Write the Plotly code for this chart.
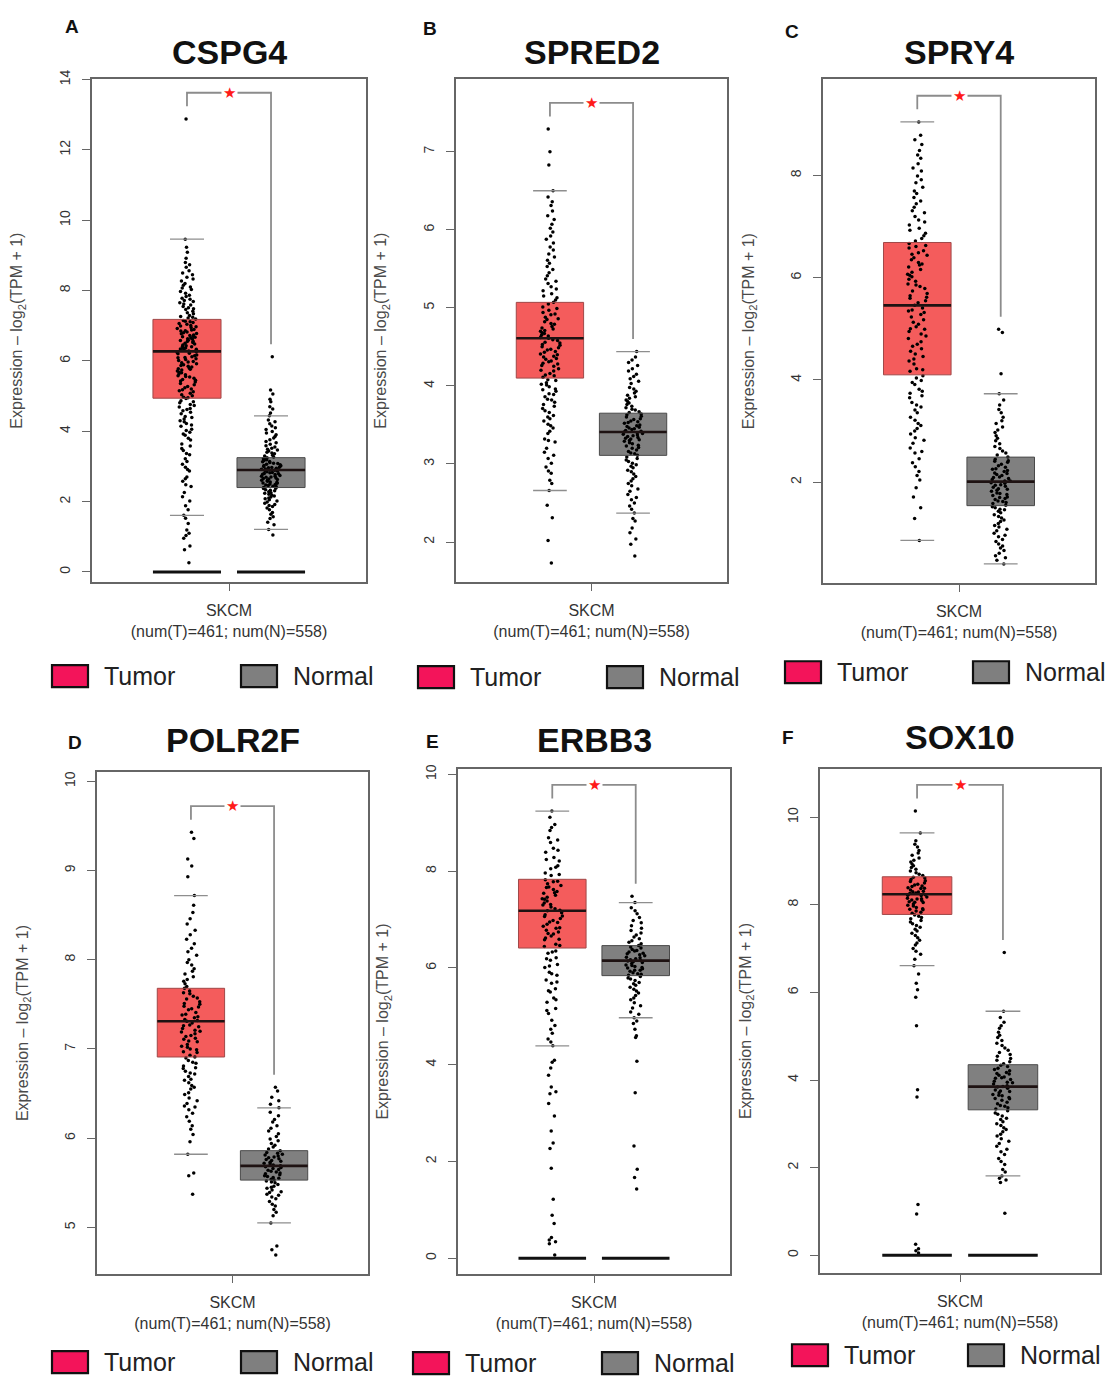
import plotly.graph_objects as go

W, H = 1115, 1378

genes = ["CSPG4", "SPRED2", "SPRY4", "POLR2F", "ERBB3", "SOX10"]
panel_letters = ["A", "B", "C", "D", "E", "F"]
group_names = ["Tumor", "Normal"]
x_tick_label = "SKCM<br>(num(T)=461; num(N)=558)"
y_title = "Expression \u2013 log<sub>2</sub>(TPM + 1)"

# ---- box statistics ----
tumor_lowerfence = [1.61, 2.66, 0.86, 5.82, 4.39, 6.61]
tumor_q1 = [4.94, 4.10, 4.10, 6.91, 6.41, 7.78]
tumor_median = [6.27, 4.61, 5.46, 7.31, 7.18, 8.24]
tumor_q3 = [7.18, 5.07, 6.69, 7.68, 7.83, 8.64]
tumor_upperfence = [9.46, 6.50, 9.05, 8.72, 9.24, 9.64]

normal_lowerfence = [1.21, 2.37, 0.40, 5.05, 4.97, 1.81]
normal_q1 = [2.40, 3.11, 1.54, 5.53, 5.84, 3.32]
normal_median = [2.90, 3.41, 2.01, 5.69, 6.15, 3.85]
normal_q3 = [3.25, 3.65, 2.49, 5.86, 6.46, 4.35]
normal_upperfence = [4.44, 4.44, 3.73, 6.34, 7.35, 5.57]

# panels that show the bar of zero values
zero_baseline = [True, False, False, False, True, True]

# ---- individual samples (estimated from the dot clouds) ----
cspg4_tumor = [0.26, 0.63, 0.74, 0.96, 1.04, 1.1, 1.19, 1.38, 1.53, 1.61, 1.77, 1.88, 2.02, 2.14, 2.26, 2.43,
               2.48, 2.65, 2.7, 2.87, 2.91, 3.06, 3.14, 3.22, 3.33, 3.37, 3.51, 3.58, 3.64, 3.75, 3.8, 3.89,
               3.92, 4.02, 4.06, 4.14, 4.18, 4.27, 4.3, 4.39, 4.42, 4.5, 4.54, 4.62, 4.65, 4.73, 4.76, 4.84,
               4.87, 4.93, 4.97, 5.04, 5.08, 5.15, 5.2, 5.27, 5.32, 5.4, 5.43, 5.47, 5.54, 5.58, 5.63, 5.68,
               5.71, 5.78, 5.8, 5.87, 5.89, 5.95, 5.98, 6.04, 6.06, 6.12, 6.15, 6.2, 6.22, 6.28, 6.3, 6.36,
               6.37, 6.43, 6.45, 6.5, 6.52, 6.58, 6.59, 6.65, 6.67, 6.72, 6.74, 6.8, 6.82, 6.88, 6.89, 6.95,
               6.97, 7.04, 7.06, 7.13, 7.15, 7.22, 7.26, 7.34, 7.37, 7.46, 7.51, 7.59, 7.65, 7.72, 7.78, 7.87,
               7.92, 8.03, 8.1, 8.2, 8.27, 8.38, 8.45, 8.56, 8.66, 8.8, 8.92, 9.09, 9.23, 9.46, 12.88,
               4.58, 4.69, 4.81, 4.95, 5.01, 5.12, 5.18, 5.24, 5.36, 5.45, 5.51, 5.56, 5.61, 5.66, 5.74, 5.76,
               5.83, 5.85, 5.92, 5.97, 6.01, 6.09, 6.1, 6.17, 6.24, 6.26, 6.33, 6.34, 6.4, 6.41, 6.48, 6.55,
               6.56, 6.62, 6.63, 6.69, 6.7, 6.77, 6.78, 6.85, 6.86, 6.92, 6.99, 7.01, 7.09, 7.11, 7.19, 7.24,
               7.29, 7.41, 7.48, 7.55, 7.62, 7.69, 7.75, 7.83, 7.97, 8.07, 8.15, 8.33, 8.5, 8.73, 3.45, 3.97,
               4.22, 4.35, 2.58, 2.98]
cspg4_normal = [1.05, 1.21, 1.34, 1.41, 1.52, 1.57, 1.64, 1.69, 1.77, 1.82, 1.89, 1.92, 1.99, 2.02, 2.08, 2.1,
                2.16, 2.18, 2.24, 2.25, 2.31, 2.32, 2.37, 2.38, 2.43, 2.44, 2.49, 2.5, 2.55, 2.56, 2.61, 2.61,
                2.66, 2.67, 2.72, 2.72, 2.77, 2.78, 2.82, 2.83, 2.87, 2.88, 2.92, 2.93, 2.97, 2.98, 3.02, 3.03,
                3.08, 3.09, 3.13, 3.14, 3.19, 3.2, 3.25, 3.27, 3.32, 3.36, 3.4, 3.44, 3.49, 3.52, 3.59, 3.63,
                3.71, 3.76, 3.85, 3.9, 3.99, 4.05, 4.15, 4.21, 4.32, 4.44, 4.52, 4.63, 4.7, 4.84, 4.91, 5.06,
                5.17, 6.12,
                2.05, 2.13, 2.21, 2.28, 2.34, 2.4, 2.46, 2.52, 2.58, 2.63, 2.69, 2.74, 2.79, 2.85, 2.9, 2.95,
                3.0, 3.06, 3.11, 3.17, 3.22, 3.3, 3.38, 3.47, 3.55, 3.67, 3.81, 3.95, 4.1, 4.27, 2.64, 2.7,
                2.8, 2.89, 2.96, 3.05, 1.86, 1.95, 2.47, 2.53]

spred2_tumor = [1.73, 2.02, 2.31, 2.47, 2.66, 2.75, 2.79, 2.88, 2.91, 3.01, 3.07, 3.15, 3.2, 3.28, 3.32, 3.39,
                3.42, 3.49, 3.51, 3.58, 3.6, 3.66, 3.68, 3.74, 3.76, 3.82, 3.83, 3.89, 3.9, 3.95, 3.96, 4.01,
                4.02, 4.07, 4.08, 4.13, 4.14, 4.19, 4.2, 4.25, 4.26, 4.31, 4.32, 4.37, 4.38, 4.43, 4.44, 4.49,
                4.5, 4.55, 4.56, 4.61, 4.62, 4.67, 4.68, 4.73, 4.74, 4.79, 4.8, 4.85, 4.86, 4.91, 4.92, 4.97,
                4.99, 5.05, 5.07, 5.13, 5.15, 5.22, 5.24, 5.31, 5.34, 5.41, 5.45, 5.53, 5.57, 5.65, 5.69, 5.78,
                5.83, 5.92, 5.97, 6.07, 6.13, 6.24, 6.31, 6.42, 6.5, 6.83, 7.0, 7.29,
                3.62, 3.71, 3.79, 3.86, 3.93, 3.99, 4.04, 4.11, 4.16, 4.22, 4.28, 4.34, 4.4, 4.46, 4.52, 4.58,
                4.64, 4.7, 4.76, 4.82, 4.88, 4.94, 5.01, 5.1, 5.18, 5.27, 5.37, 5.49, 5.61, 5.74, 5.88, 6.02,
                6.18, 6.36, 4.47, 4.53, 4.59, 4.65, 4.71, 4.41, 4.35, 4.29, 3.55, 3.46, 3.3, 3.11, 2.96]
spred2_normal = [1.82, 1.97, 2.04, 2.12, 2.18, 2.27, 2.3, 2.37, 2.42, 2.5, 2.54, 2.61, 2.65, 2.72, 2.75, 2.81,
                 2.84, 2.9, 2.92, 2.97, 2.99, 3.03, 3.05, 3.09, 3.11, 3.14, 3.16, 3.2, 3.21, 3.24, 3.26, 3.29,
                 3.31, 3.34, 3.35, 3.38, 3.4, 3.42, 3.44, 3.47, 3.49, 3.52, 3.54, 3.57, 3.6, 3.63, 3.66, 3.69,
                 3.72, 3.76, 3.8, 3.84, 3.88, 3.93, 3.98, 4.03, 4.09, 4.15, 4.22, 4.3, 4.37, 4.44,
                 2.68, 2.78, 2.87, 2.95, 3.01, 3.07, 3.13, 3.18, 3.23, 3.27, 3.3, 3.33, 3.37, 3.39, 3.41, 3.43,
                 3.45, 3.48, 3.5, 3.53, 3.55, 3.58, 3.61, 3.64, 3.67, 3.7, 3.74, 3.78, 3.82, 3.86, 3.91, 3.96,
                 4.06, 4.12, 4.19, 4.26, 4.33, 2.46, 2.57, 3.36, 3.32, 3.46]

spry4_tumor = [0.86, 1.29, 1.5, 1.71, 1.89, 2.04, 2.21, 2.3, 2.46, 2.57, 2.67, 2.76, 2.87, 2.94, 3.05, 3.11,
               3.21, 3.27, 3.36, 3.41, 3.51, 3.56, 3.65, 3.69, 3.78, 3.82, 3.91, 3.95, 4.04, 4.08, 4.17, 4.22,
               4.31, 4.37, 4.46, 4.51, 4.61, 4.66, 4.75, 4.81, 4.9, 4.95, 5.04, 5.09, 5.18, 5.23, 5.32, 5.37,
               5.46, 5.51, 5.6, 5.65, 5.74, 5.79, 5.88, 5.93, 6.02, 6.07, 6.16, 6.21, 6.3, 6.35, 6.44, 6.49,
               6.58, 6.63, 6.72, 6.77, 6.87, 6.93, 7.03, 7.09, 7.2, 7.27, 7.38, 7.45, 7.57, 7.65, 7.77, 7.86,
               7.99, 8.09, 8.23, 8.34, 8.49, 8.61, 8.79, 9.05,
               3.15, 3.47, 3.74, 3.99, 4.2, 4.41, 4.56, 4.7, 4.86, 4.99, 5.13, 5.28, 5.41, 5.55, 5.69, 5.83,
               5.97, 6.11, 6.25, 6.39, 6.53, 6.67, 6.82, 6.97, 7.13, 7.31, 7.5, 7.7, 7.92, 8.15, 8.4, 8.7,
               5.0, 5.35, 5.62, 5.86, 6.05, 6.27, 6.46, 6.61, 2.6, 2.82, 3.0, 2.38, 2.13]
spry4_normal = [0.4, 0.47, 0.56, 0.61, 0.71, 0.75, 0.84, 0.88, 0.96, 1.0, 1.08, 1.12, 1.19, 1.23, 1.3, 1.33,
                1.4, 1.43, 1.5, 1.52, 1.58, 1.6, 1.66, 1.68, 1.74, 1.76, 1.82, 1.84, 1.9, 1.92, 1.98, 1.99,
                2.05, 2.07, 2.13, 2.15, 2.21, 2.23, 2.29, 2.32, 2.39, 2.42, 2.49, 2.53, 2.61, 2.66, 2.75, 2.81,
                2.91, 2.97, 3.08, 3.15, 3.27, 3.36, 3.51, 3.61, 3.73, 4.12, 4.93, 4.99,
                0.52, 0.66, 0.79, 0.93, 1.05, 1.15, 1.26, 1.36, 1.46, 1.55, 1.63, 1.71, 1.79, 1.87, 1.95, 2.02,
                2.1, 2.18, 2.26, 2.35, 2.45, 2.57, 2.7, 2.86, 3.02, 3.2, 3.42, 1.47, 1.62, 1.78, 1.94, 2.09,
                2.25, 2.41, 2.02, 1.86, 1.7, 2.17]

polr2f_tumor = [5.37, 5.58, 5.61, 5.82, 5.96, 6.04, 6.14, 6.19, 6.28, 6.32, 6.39, 6.42, 6.49, 6.51, 6.57, 6.59,
                6.65, 6.66, 6.72, 6.73, 6.78, 6.79, 6.84, 6.85, 6.9, 6.91, 6.96, 6.97, 7.02, 7.03, 7.08, 7.09,
                7.14, 7.15, 7.2, 7.21, 7.26, 7.27, 7.32, 7.33, 7.38, 7.39, 7.44, 7.45, 7.5, 7.51, 7.56, 7.57,
                7.62, 7.63, 7.68, 7.7, 7.76, 7.78, 7.84, 7.87, 7.94, 7.97, 8.05, 8.09, 8.18, 8.23, 8.33, 8.4,
                8.53, 8.61, 8.72, 8.93, 9.05, 9.13, 9.36, 9.43,
                6.45, 6.55, 6.62, 6.69, 6.75, 6.81, 6.87, 6.93, 6.99, 7.05, 7.11, 7.17, 7.23, 7.29, 7.35, 7.41,
                7.47, 7.53, 7.59, 7.65, 7.73, 7.81, 7.9, 8.0, 8.13, 8.28, 8.46, 6.24, 6.35, 7.0, 7.12, 7.25,
                7.36, 7.48, 7.19, 7.31, 6.36, 6.1]
polr2f_normal = [4.69, 4.75, 4.79, 5.05, 5.13, 5.17, 5.24, 5.26, 5.32, 5.34, 5.39, 5.4, 5.45, 5.46, 5.5, 5.51,
                 5.54, 5.55, 5.58, 5.59, 5.62, 5.63, 5.66, 5.67, 5.7, 5.71, 5.74, 5.75, 5.78, 5.79, 5.82, 5.83,
                 5.86, 5.88, 5.92, 5.94, 5.99, 6.02, 6.08, 6.11, 6.18, 6.21, 6.29, 6.34, 6.42, 6.46, 6.53, 6.57,
                 5.2, 5.29, 5.36, 5.42, 5.48, 5.52, 5.56, 5.6, 5.64, 5.68, 5.72, 5.76, 5.8, 5.84, 5.9, 5.97,
                 6.05, 6.14, 6.25, 6.38, 5.57, 5.61, 5.65, 5.69, 5.73, 5.77, 5.53, 5.81, 5.44, 5.37]

erbb3_tumor = [0.07, 0.3, 0.34, 0.38, 0.43, 0.72, 0.89, 1.22, 1.86, 2.27, 2.38, 2.63, 2.94, 3.2, 3.4, 3.44,
               3.54, 3.78, 3.93, 4.05, 4.09, 4.39, 4.53, 4.65, 4.81, 4.92, 5.06, 5.16, 5.29, 5.38, 5.5, 5.57,
               5.68, 5.75, 5.85, 5.91, 6.01, 6.07, 6.16, 6.21, 6.3, 6.35, 6.44, 6.49, 6.58, 6.62, 6.7, 6.74,
               6.82, 6.86, 6.94, 6.98, 7.06, 7.1, 7.18, 7.22, 7.3, 7.34, 7.42, 7.46, 7.54, 7.58, 7.66, 7.7,
               7.78, 7.82, 7.91, 7.96, 8.05, 8.11, 8.21, 8.28, 8.39, 8.47, 8.59, 8.69, 8.84, 8.96, 9.11, 9.24,
               5.12, 5.34, 5.53, 5.71, 5.88, 6.04, 6.19, 6.33, 6.46, 6.59, 6.71, 6.83, 6.95, 7.07, 7.19, 7.31,
               7.43, 7.55, 7.67, 7.79, 7.93, 8.08, 8.24, 8.43, 8.64, 8.9, 6.66, 6.78, 6.9, 7.02, 7.14, 7.26,
               7.38, 7.5, 7.62, 7.74, 4.73, 4.47]
erbb3_normal = [1.43, 1.67, 1.84, 2.32, 3.42, 4.07, 4.56, 4.6, 4.73, 4.85, 4.97, 5.09, 5.17, 5.28, 5.34, 5.43,
                5.48, 5.56, 5.6, 5.67, 5.7, 5.77, 5.79, 5.85, 5.87, 5.93, 5.95, 6.01, 6.03, 6.09, 6.11, 6.17,
                6.19, 6.25, 6.27, 6.33, 6.35, 6.41, 6.43, 6.5, 6.53, 6.6, 6.64, 6.72, 6.77, 6.87, 6.93, 7.04,
                7.12, 7.24, 7.35, 7.48,
                5.04, 5.22, 5.38, 5.52, 5.64, 5.74, 5.82, 5.9, 5.98, 6.06, 6.14, 6.22, 6.3, 6.38, 6.46, 6.56,
                6.68, 6.82, 6.98, 7.18, 6.05, 6.13, 6.21, 6.29, 6.16, 6.0, 5.88, 5.95, 6.36, 4.9]

sox10_tumor = [0.05, 0.1, 0.15, 0.25, 0.94, 1.16, 3.61, 3.78, 5.24, 5.89, 6.06, 6.21, 6.42, 6.61, 6.76, 6.87,
               7.0, 7.08, 7.19, 7.25, 7.35, 7.4, 7.49, 7.53, 7.61, 7.64, 7.71, 7.74, 7.81, 7.83, 7.89, 7.91,
               7.97, 7.99, 8.05, 8.07, 8.13, 8.15, 8.21, 8.23, 8.29, 8.31, 8.37, 8.39, 8.45, 8.47, 8.53, 8.55,
               8.61, 8.63, 8.7, 8.73, 8.81, 8.85, 8.93, 8.98, 9.07, 9.13, 9.24, 9.32, 9.46, 9.64, 10.14,
               6.94, 7.13, 7.3, 7.44, 7.57, 7.68, 7.77, 7.86, 7.94, 8.02, 8.1, 8.18, 8.26, 8.34, 8.42, 8.5,
               8.58, 8.67, 8.77, 8.89, 9.02, 9.18, 9.38, 8.06, 8.14, 8.22, 8.3, 8.38, 8.11, 8.27, 7.9, 8.43]
sox10_normal = [0.96, 1.66, 1.72, 1.81, 1.96, 2.07, 2.21, 2.3, 2.42, 2.49, 2.6, 2.66, 2.76, 2.82, 2.91, 2.96,
                3.05, 3.1, 3.18, 3.22, 3.3, 3.34, 3.42, 3.46, 3.54, 3.57, 3.64, 3.67, 3.74, 3.77, 3.84, 3.87,
                3.94, 3.97, 4.04, 4.07, 4.14, 4.17, 4.24, 4.27, 4.34, 4.37, 4.45, 4.49, 4.58, 4.63, 4.73, 4.79,
                4.9, 4.97, 5.09, 5.18, 5.32, 5.43, 5.57, 6.91,
                2.14, 2.36, 2.55, 2.72, 2.87, 3.0, 3.13, 3.25, 3.37, 3.49, 3.6, 3.71, 3.81, 3.91, 4.01, 4.11,
                4.21, 4.31, 4.42, 4.54, 4.68, 4.84, 5.02, 5.24, 3.65, 3.75, 3.85, 3.95, 4.05, 3.58, 4.15, 3.4,
                1.76, 1.9]

tumor_samples = [cspg4_tumor, spred2_tumor, spry4_tumor, polr2f_tumor, erbb3_tumor, sox10_tumor]
normal_samples = [cspg4_normal, spred2_normal, spry4_normal, polr2f_normal, erbb3_normal, sox10_normal]

y_tick_values = [
    [0, 2, 4, 6, 8, 10, 12, 14],
    [2, 3, 4, 5, 6, 7],
    [2, 4, 6, 8],
    [5, 6, 7, 8, 9, 10],
    [0, 2, 4, 6, 8, 10],
    [0, 2, 4, 6, 8, 10],
]

# ---- layout (pixel geometry of each panel) ----
frames = [(92, 366, 70, 576), (456, 727, 70, 576), (823, 1095, 70, 577),
          (97, 368, 768, 1273), (458, 730, 765, 1273), (820, 1100, 765, 1272)]
y_ranges = [(-0.28, 14.0), (1.49, 7.925), (0.03, 9.88), (4.48, 10.1), (-0.32, 10.1), (-0.40, 11.09)]
title_y_px = [42, 42, 42, 735, 735, 732]
letter_px = [(72, 17), (430, 19), (792, 22), (75, 738), (432, 737), (788, 733)]
legend_tumor_left = [52, 418, 785, 52, 413, 792]
legend_normal_left = [241, 607, 973, 241, 602, 968]
legend_cy = [671, 672, 667, 1362, 1363, 1355]

TUMOR_FILL = "#F45C5C"
TUMOR_LINE = "#A04848"
NORMAL_FILL = "#808080"
NORMAL_LINE = "#4A4A4A"
STAPLE = "#8E8E8E"
LEG_TUMOR = "#F3145A"
LEG_NORMAL = "#7F7F7F"
FONT = "Liberation Sans, Arial, sans-serif"

X_HALF = 1.63
BOX_W = 0.81


def px_x(p):
    return p / W


def px_y(p):
    return 1 - p / H


def flat_bar(pos, value, width, color, lw, xref, yref):
    """A box whose statistics all equal one value: drawn as a horizontal bar."""
    return go.Box(
        x=[pos], q1=[value], median=[value], q3=[value], lowerfence=[value], upperfence=[value],
        orientation="v", width=width, whiskerwidth=1,
        fillcolor="rgba(0,0,0,0)", line=dict(color=color, width=lw),
        boxpoints=False, xaxis=xref, yaxis=yref, showlegend=False, hoverinfo="skip",
    )


fig = go.Figure()
annotations = []
shapes = []

for i in range(6):
    ax = "" if i == 0 else str(i + 1)
    xref, yref = "x" + ax, "y" + ax
    groups = [
        (1, tumor_samples[i], tumor_lowerfence[i], tumor_q1[i], tumor_median[i], tumor_q3[i],
         tumor_upperfence[i], TUMOR_FILL, TUMOR_LINE),
        (2, normal_samples[i], normal_lowerfence[i], normal_q1[i], normal_median[i], normal_q3[i],
         normal_upperfence[i], NORMAL_FILL, NORMAL_LINE),
    ]
    for pos, vals, lf, q1, med, q3, uf, fill, line in groups:
        # filled box with the sample points (no visible whisker lines)
        fig.add_trace(go.Box(
            x=[pos], y=[vals], q1=[q1], median=[med], q3=[q3], lowerfence=[lf], upperfence=[uf],
            orientation="v", width=BOX_W, whiskerwidth=0.5,
            fillcolor=fill, line=dict(color="rgba(0,0,0,0)", width=0),
            boxpoints="all", jitter=0.3, pointpos=0,
            marker=dict(color="black", size=3.5, opacity=1),
            xaxis=xref, yaxis=yref, showlegend=False, hoverinfo="skip",
        ))
        # box outline
        fig.add_trace(go.Box(
            x=[pos], q1=[q1], median=[med], q3=[q3], lowerfence=[q1], upperfence=[q3],
            orientation="v", width=BOX_W, whiskerwidth=0,
            fillcolor="rgba(0,0,0,0)", line=dict(color=line, width=1),
            boxpoints=False, xaxis=xref, yaxis=yref, showlegend=False, hoverinfo="skip",
        ))
        # whisker staples
        fig.add_trace(flat_bar(pos, lf, BOX_W * 0.5, STAPLE, 1.3, xref, yref))
        fig.add_trace(flat_bar(pos, uf, BOX_W * 0.5, STAPLE, 1.3, xref, yref))
        # thick median bar
        fig.add_trace(flat_bar(pos, med, BOX_W, "#1E1212", 2.6, xref, yref))
        if zero_baseline[i]:
            fig.add_trace(flat_bar(pos, 0, BOX_W, "#111111", 3, xref, yref))

    # significance bracket
    y0, y1 = y_ranges[i]
    rng = y1 - y0
    tmax = max(tumor_samples[i])
    nmax = max(normal_samples[i])
    left_b = tmax + 0.025 * rng
    top = max(tmax, nmax) + 0.052 * rng
    right_b = nmax + 0.025 * rng
    fig.add_trace(go.Scatter(
        x=[1, 1, 2, 2], y=[left_b, top, top, right_b], mode="lines",
        line=dict(color="#8C8C8C", width=1.8), xaxis=xref, yaxis=yref,
        showlegend=False, hoverinfo="skip",
    ))
    annotations.append(dict(
        x=1.5, y=top, xref=xref, yref=yref, text="\u2605", showarrow=False,
        font=dict(color="#FF1A1A", size=15, family="DejaVu Sans"), bgcolor="white",
        xanchor="center", yanchor="middle", borderpad=1,
    ))

    fx0, fx1, fy0, fy1 = frames[i]
    xa = dict(
        domain=[px_x(fx0), px_x(fx1)], range=[1.5 - X_HALF, 1.5 + X_HALF],
        tickvals=[1.5], ticktext=[x_tick_label], ticks="outside", ticklen=7,
        tickcolor="#666666", tickwidth=1.2,
        tickfont=dict(size=16, color="#333333", family=FONT),
        showline=True, linecolor="#666666", linewidth=1.5, mirror=True,
        showgrid=False, zeroline=False, anchor=yref, fixedrange=True,
        ticklabelstandoff=6,
    )
    ya = dict(
        domain=[px_y(fy1), px_y(fy0)], range=list(y_ranges[i]),
        tickvals=y_tick_values[i], ticks="outside", ticklen=8, tickangle=-90,
        tickcolor="#666666", tickwidth=1.2,
        tickfont=dict(size=14, color="#333333", family=FONT),
        showline=True, linecolor="#666666", linewidth=1.5, mirror=True,
        showgrid=False, zeroline=False, anchor=xref, fixedrange=True,
        ticklabelstandoff=7,
    )
    fig.update_layout(**{"xaxis" + ax: xa, "yaxis" + ax: ya})

    cx = (fx0 + fx1) / 2
    # gene title
    annotations.append(dict(
        x=px_x(cx), y=px_y(title_y_px[i]), xref="paper", yref="paper", text="<b>%s</b>" % genes[i],
        showarrow=False, font=dict(size=34, color="#111111", family=FONT),
        xanchor="center", yanchor="middle",
    ))
    # panel letter
    lx, ly = letter_px[i]
    annotations.append(dict(
        x=px_x(lx), y=px_y(ly), xref="paper", yref="paper", text="<b>%s</b>" % panel_letters[i],
        showarrow=False, font=dict(size=19, color="#111111", family=FONT),
        xanchor="center", yanchor="middle",
    ))
    # y axis title
    annotations.append(dict(
        x=px_x(fx0 - 74), y=px_y((fy0 + fy1) / 2), xref="paper", yref="paper", text=y_title,
        textangle=-90, showarrow=False, font=dict(size=16, color="#4A4A4A", family=FONT),
        xanchor="center", yanchor="middle",
    ))
    # legend boxes
    cy = legend_cy[i]
    for left, name, col in [(legend_tumor_left[i], group_names[0], LEG_TUMOR),
                            (legend_normal_left[i], group_names[1], LEG_NORMAL)]:
        shapes.append(dict(
            type="rect", xref="paper", yref="paper",
            x0=px_x(left), x1=px_x(left + 36), y0=px_y(cy + 11), y1=px_y(cy - 11),
            fillcolor=col, line=dict(color="#111111", width=2.2),
        ))
        annotations.append(dict(
            x=px_x(left + 50), y=px_y(cy), xref="paper", yref="paper", text=name,
            showarrow=False, font=dict(size=25, color="#222222", family=FONT),
            xanchor="left", yanchor="middle",
        ))

fig.update_layout(
    width=W, height=H, margin=dict(l=0, r=0, t=0, b=0),
    paper_bgcolor="white", plot_bgcolor="white",
    showlegend=False, annotations=annotations, shapes=shapes,
    font=dict(family=FONT),
)

fig.write_html(
    "out.html",
    config={"displayModeBar": False},
    post_script=(
        "document.body.style.margin='0';document.body.style.overflow='hidden';"
        "var gd=document.getElementsByClassName('plotly-graph-div')[0];"
        "gd.style.position='fixed';gd.style.left='0px';gd.style.top='0px';"
    ),
)
